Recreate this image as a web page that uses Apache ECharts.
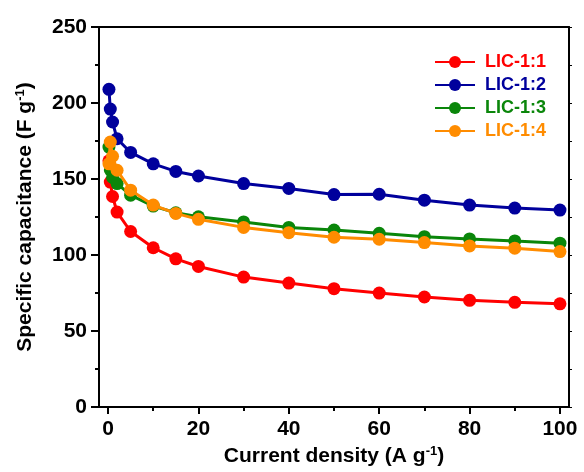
<!DOCTYPE html>
<html>
<head>
<meta charset="utf-8">
<script src="https://cdn.jsdelivr.net/npm/echarts@6/dist/echarts.min.js"></script>
<style>
    html, body { margin: 0; padding: 0; background: #fff; }
    #chart { width: 584px; height: 472px; }
</style>
</head>
<body>
<div id="chart"></div>
<script>
// 电流密度 (A g-1)
var currentDensity = [0.2, 0.5, 1, 2, 5, 10, 15, 20, 30, 40, 50, 60, 70, 80, 90, 100];
// 比电容 (F g-1)
var lic11 = [162, 148, 138.5, 128.3, 115.5, 104.8, 97.5, 92.5, 85.5, 81.6, 77.9, 75, 72.4, 70.2, 68.9, 67.9];
var lic12 = [209, 196, 187.5, 176.5, 167.5, 160, 155, 152, 147, 143.8, 139.8, 140, 136.1, 132.9, 130.9, 129.6];
var lic13 = [171, 156, 151, 147, 139.4, 132.2, 127.8, 125.2, 121.8, 118.2, 116.5, 114.3, 112.1, 110.6, 109.3, 107.8];
var lic14 = [160, 174.3, 165, 155.8, 142.7, 132.9, 127.4, 123.5, 118.2, 114.7, 111.7, 110.4, 108.2, 106, 104.5, 102.3];
var xMajorTicks = [0, 20, 40, 60, 80, 100];
var xMinorTicks = [10, 30, 50, 70, 90];

var seriesNames = ['LIC-1:1', 'LIC-1:2', 'LIC-1:3', 'LIC-1:4'];
var seriesColors = ['#ff0000', '#00009c', '#0a860a', '#ff8c00'];
var seriesData = [lic11, lic12, lic13, lic14];

var fontFamily = '"Liberation Sans", Arial, sans-serif';

function pairs(ys) {
    return currentDensity.map(function (x, i) { return [x, ys[i]]; });
}

var chart = echarts.init(document.getElementById('chart'));

var series = seriesNames.map(function (name, i) {
    return {
        name: name,
        type: 'line',
        data: pairs(seriesData[i]),
        symbol: 'circle',
        symbolSize: 13,
        lineStyle: { width: 3, color: seriesColors[i] },
        itemStyle: { color: seriesColors[i] },
        z: 2 + i
    };
});

var option = {
    animation: false,
    grid: { left: 99, right: 15, top: 27, bottom: 64 },
    legend: {
        orient: 'vertical',
        left: 429,
        top: 48,
        itemWidth: 40,
        itemHeight: 15,
        itemGap: 5,
        data: seriesNames.map(function (n, i) {
            return { name: n, textStyle: { color: seriesColors[i] } };
        }),
        textStyle: {
            fontFamily: fontFamily,
            fontSize: 18,
            fontWeight: 'bold',
            padding: [0, 0, 0, 5]
        }
    },
    xAxis: [
        {
            type: 'value',
            min: -2,
            max: 102,
            position: 'bottom',
            name: 'Current density (A g{sup|-1})',
            nameLocation: 'middle',
            nameGap: 32,
            nameTextStyle: {
                fontFamily: fontFamily,
                fontSize: 21,
                fontWeight: 'bold',
                color: '#000',
                rich: {
                    sup: { fontFamily: fontFamily, fontSize: 13, fontWeight: 'bold', color: '#000', verticalAlign: 'top', padding: [0, 0, 10, 0] }
                }
            },
            axisLine: { show: true, onZero: false, lineStyle: { color: '#000', width: 2 } },
            axisTick: { show: true, customValues: xMajorTicks, length: 7, lineStyle: { color: '#000', width: 2 } },
            axisLabel: {
                customValues: xMajorTicks,
                margin: 12,
                fontFamily: fontFamily,
                fontSize: 21,
                fontWeight: 'bold',
                color: '#000'
            },
            splitLine: { show: false }
        },
        {
            type: 'value',
            min: -2,
            max: 102,
            position: 'bottom',
            axisLine: { show: false, onZero: false },
            axisTick: { show: true, customValues: xMinorTicks, length: 4, lineStyle: { color: '#000', width: 2 } },
            axisLabel: { show: false },
            splitLine: { show: false }
        },
        {
            type: 'value',
            min: -2,
            max: 102,
            position: 'top',
            axisLine: { show: true, onZero: false, lineStyle: { color: '#000', width: 2 } },
            axisTick: { show: false },
            axisLabel: { show: false },
            splitLine: { show: false }
        }
    ],
    yAxis: [
        {
            type: 'value',
            min: 0,
            max: 250,
            interval: 50,
            position: 'left',
            name: 'Specific capacitance (F g{sup|-1})',
            nameLocation: 'middle',
            nameGap: 62,
            nameTextStyle: {
                fontFamily: fontFamily,
                fontSize: 21,
                fontWeight: 'bold',
                color: '#000',
                rich: {
                    sup: { fontFamily: fontFamily, fontSize: 13, fontWeight: 'bold', color: '#000', verticalAlign: 'top', padding: [0, 0, 10, 0] }
                }
            },
            axisLine: { show: true, onZero: false, lineStyle: { color: '#000', width: 2 } },
            axisTick: { show: true, length: 8, lineStyle: { color: '#000', width: 2 } },
            minorTick: { show: true, splitNumber: 2, length: 4, lineStyle: { color: '#000', width: 2 } },
            axisLabel: {
                margin: 12,
                fontFamily: fontFamily,
                fontSize: 21,
                fontWeight: 'bold',
                color: '#000'
            },
            splitLine: { show: false }
        },
        {
            type: 'value',
            min: 0,
            max: 250,
            interval: 25,
            position: 'right',
            axisLine: { show: true, onZero: false, lineStyle: { color: '#000', width: 2 } },
            axisTick: { show: true, length: 3, lineStyle: { color: '#000', width: 1 } },
            axisLabel: { show: false },
            splitLine: { show: false }
        }
    ],
    series: series
};

chart.setOption(option);
</script>
</body>
</html>
